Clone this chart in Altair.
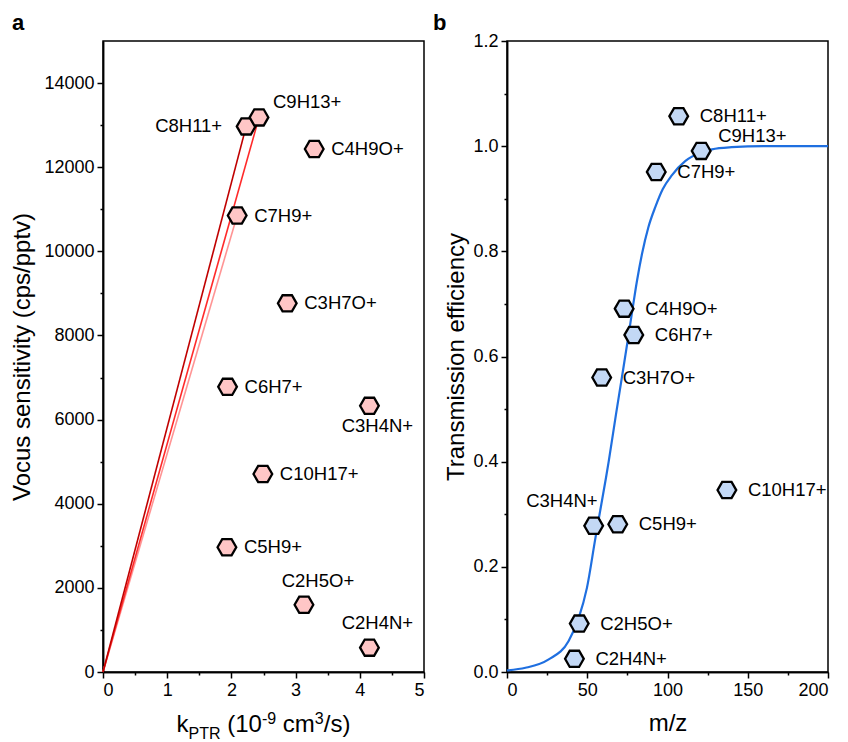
import altair as alt
import pandas as pd

FONT = "Liberation Sans"

# ---------------- data ----------------
ions = ["C2H4N+", "C2H5O+", "C3H4N+", "C3H7O+", "C5H9+", "C4H9O+",
        "C6H7+", "C7H9+", "C8H11+", "C9H13+", "C10H17+"]
mz = [42, 45, 54, 59, 69, 73, 79, 93, 107, 121, 137]
k_ptr = [4.15, 3.13, 4.15, 2.87, 1.93, 3.29, 1.94, 2.09, 2.23, 2.43, 2.49]
vocus_sens = [579, 1599, 6327, 8764, 2966, 12432, 6778, 10851, 12970, 13184, 4707]
transmission = [0.025, 0.092, 0.278, 0.560, 0.281, 0.691, 0.641, 0.951, 1.057, 0.991, 0.346]
label_pos_a = ["above2", "above", "below", "right", "right", "right",
               "right", "right", "left", "upright", "right"]
label_pos_b = ["right", "right", "upleft", "right", "right", "right",
               "right", "right", "right", "upright", "right"]

# fitted transmission curve
fit_mz = [0, 11.5, 26.0, 38.4, 44.7, 49.8, 55.1, 57.1, 61.7, 63.4, 67.9, 72.2,
          75.8, 78.2, 81.0, 84.1, 88.0, 92.5, 97.0, 102.8, 111.2, 120.0, 127.7,
          140.0, 160.0, 200.0]
fit_t = [0.003, 0.008, 0.024, 0.059, 0.103, 0.160, 0.255, 0.290, 0.370, 0.401,
         0.490, 0.572, 0.642, 0.690, 0.744, 0.795, 0.845, 0.885, 0.918, 0.945,
         0.972, 0.987, 0.994, 0.998, 1.0, 1.0]

# lines through the origin (panel a)
line_series = ["C7H9+", "C7H9+", "C9H13+", "C9H13+", "C8H11+", "C8H11+"]
line_k = [0, 2.09, 0, 2.43, 0, 2.23]
line_s = [0, 10851, 0, 13184, 0, 12970]
line_colors = ["#FF9494", "#FF2A2A", "#C00000"]

df = pd.DataFrame({"ion": ions, "mz": mz, "k": k_ptr, "sens": vocus_sens,
                   "trans": transmission, "pa": label_pos_a, "pb": label_pos_b})
fit = pd.DataFrame({"mz": fit_mz, "trans": fit_t})
lines = pd.DataFrame({"k": line_k, "sens": line_s, "series": line_series})

W, H = 321, 631
HEX = "M-1,0L-0.5,-0.866L0.5,-0.866L1,0L0.5,0.866L-0.5,0.866Z"

# ---------------- panel a ----------------
xa = alt.Scale(domain=[0, 5], nice=False, zero=False)
ya = alt.Scale(domain=[0, 15000], nice=False)

xa_major = alt.Axis(orient="bottom", values=[0, 1, 2, 3, 4, 5], format="d", title=None,
                    tickSize=6, labelPadding=3, grid=False)
xa_minor = alt.Axis(orient="bottom", values=[0.5, 1.5, 2.5, 3.5, 4.5], labels=False,
                    title=None, tickSize=3, grid=False)
ya_major = alt.Axis(orient="left", values=list(range(0, 14001, 2000)), format="d",
                    title="Vocus sensitivity (cps/pptv)", tickSize=6, labelPadding=3,
                    titlePadding=9, grid=False)
ya_minor = alt.Axis(orient="left", values=list(range(1000, 14000, 2000)), labels=False,
                    title=None, tickSize=3, grid=False)

lines_a = alt.Chart(lines).mark_line(strokeWidth=1.6).encode(
    x=alt.X("k:Q", scale=xa, axis=xa_minor),
    y=alt.Y("sens:Q", scale=ya, axis=ya_minor),
    color=alt.Color("series:N", scale=alt.Scale(domain=["C7H9+", "C9H13+", "C8H11+"],
                                                range=line_colors), legend=None),
    detail="series:N",
)

pts_a = alt.Chart(df).mark_point(shape=HEX, size=350, filled=True, fill="#FFC6C6",
                                 stroke="black", strokeWidth=2.3, opacity=1).encode(
    x=alt.X("k:Q", scale=xa, axis=xa_major),
    y=alt.Y("sens:Q", scale=ya, axis=ya_major),
)


def lab(data_field, value, xf, yf, xs, ys, **kw):
    return alt.Chart(df).transform_filter(alt.datum[data_field] == value).mark_text(
        font=FONT, fontSize=18.5, color="black", **kw).encode(
        x=alt.X(xf + ":Q", scale=xs, axis=None),
        y=alt.Y(yf + ":Q", scale=ys, axis=None),
        text="ion:N",
    )


labs_a = [
    lab("pa", "right", "k", "sens", xa, ya, align="left", baseline="middle", dx=17),
    lab("pa", "left", "k", "sens", xa, ya, align="right", baseline="middle", dx=-24),
    lab("pa", "upright", "k", "sens", xa, ya, align="left", baseline="middle", dx=14, dy=-15),
    lab("pa", "below", "k", "sens", xa, ya, align="center", baseline="middle", dx=8, dy=20),
    lab("pa", "above", "k", "sens", xa, ya, align="center", baseline="middle", dx=14, dy=-24),
    lab("pa", "above2", "k", "sens", xa, ya, align="center", baseline="middle", dx=8, dy=-25),
]

# x-axis title with sub/superscripts
AW = {"k": 0.5, "P": 0.667, "T": 0.611, "R": 0.722, " ": 0.278, "(": 0.333, ")": 0.333,
      "1": 0.556, "0": 0.556, "-": 0.333, "9": 0.556, "c": 0.5, "m": 0.833, "3": 0.556,
      "/": 0.278, "s": 0.5}
pieces = [("k", 24, 0), ("PTR", 16, 7), (" (10", 24, 0), ("-9", 16, -8), (" cm", 24, 0),
          ("3", 16, -8), ("/s)", 24, 0)]
widths = [sum(AW[c] for c in t) * fs for t, fs, _ in pieces]
x0 = W / 2 - sum(widths) / 2
title_layers = []
for (t, fs, off), w in zip(pieces, widths):
    lead = len(t) - len(t.lstrip(" "))
    shift = lead * AW[" "] * fs
    txt = t.lstrip(" ")
    title_layers.append(
        alt.Chart(pd.DataFrame({"t": [txt]})).mark_text(
            font=FONT, fontSize=fs, align="left", baseline="alphabetic", color="black").encode(
            x=alt.value(x0 + shift), y=alt.value(H + 60 + off), text=alt.value(txt)))
    x0 += w

tag_a = alt.Chart(pd.DataFrame({"t": ["a"]})).mark_text(
    font=FONT, fontSize=22, fontWeight="bold", align="left", baseline="alphabetic").encode(
    x=alt.value(-91), y=alt.value(-11), text=alt.value("a"))

panel_a = alt.layer(lines_a, pts_a, *labs_a, *title_layers, tag_a).resolve_axis(
    x="independent", y="independent").properties(width=W, height=H)

# ---------------- panel b ----------------
xb = alt.Scale(domain=[0, 200], nice=False)
yb = alt.Scale(domain=[0, 1.2], nice=False)

xb_major = alt.Axis(orient="bottom", values=[0, 50, 100, 150, 200], format="d", title="m/z",
                    tickSize=6, labelPadding=3, titlePadding=12, grid=False)
xb_minor = alt.Axis(orient="bottom", values=[25, 75, 125, 175], labels=False, title=None,
                    tickSize=3, grid=False)
yb_major = alt.Axis(orient="left", values=[0, 0.2, 0.4, 0.6, 0.8, 1.0, 1.2], format=".1f",
                    title="Transmission efficiency", tickSize=6, labelPadding=3,
                    titlePadding=4, grid=False)
yb_minor = alt.Axis(orient="left", values=[0.1, 0.3, 0.5, 0.7, 0.9, 1.1], labels=False,
                    title=None, tickSize=3, grid=False)

fit_b = alt.Chart(fit).mark_line(color="#1F6FE0", strokeWidth=2.2, interpolate="monotone").encode(
    x=alt.X("mz:Q", scale=xb, axis=xb_minor),
    y=alt.Y("trans:Q", scale=yb, axis=yb_minor),
)
pts_b = alt.Chart(df).mark_point(shape=HEX, size=350, filled=True, fill="#C3D8F5",
                                 stroke="black", strokeWidth=2.3, opacity=1).encode(
    x=alt.X("mz:Q", scale=xb, axis=xb_major),
    y=alt.Y("trans:Q", scale=yb, axis=yb_major),
)
labs_b = [
    lab("pb", "right", "mz", "trans", xb, yb, align="left", baseline="middle", dx=21),
    lab("pb", "upright", "mz", "trans", xb, yb, align="left", baseline="middle", dx=17, dy=-15),
    lab("pb", "upleft", "mz", "trans", xb, yb, align="right", baseline="middle", dx=4, dy=-25),
]
tag_b = alt.Chart(pd.DataFrame({"t": ["b"]})).mark_text(
    font=FONT, fontSize=22, fontWeight="bold", align="left", baseline="alphabetic").encode(
    x=alt.value(-74), y=alt.value(-11), text=alt.value("b"))

panel_b = alt.layer(fit_b, pts_b, *labs_b, tag_b).resolve_axis(
    x="independent", y="independent").properties(width=W, height=H)

chart = alt.hconcat(panel_a, panel_b, spacing=6).properties(
    padding={"left": 10, "top": 11, "right": 5, "bottom": 5}
).configure_view(stroke="black", strokeWidth=1.5).configure_axis(
    labelFont=FONT, labelFontSize=18, labelColor="black",
    titleFont=FONT, titleFontSize=24, titleFontWeight="normal", titleColor="black",
    domainColor="black", domainWidth=1.5, tickColor="black", tickWidth=1.5,
)

chart.save("out.html", embed_options={"renderer": "svg", "actions": False})
